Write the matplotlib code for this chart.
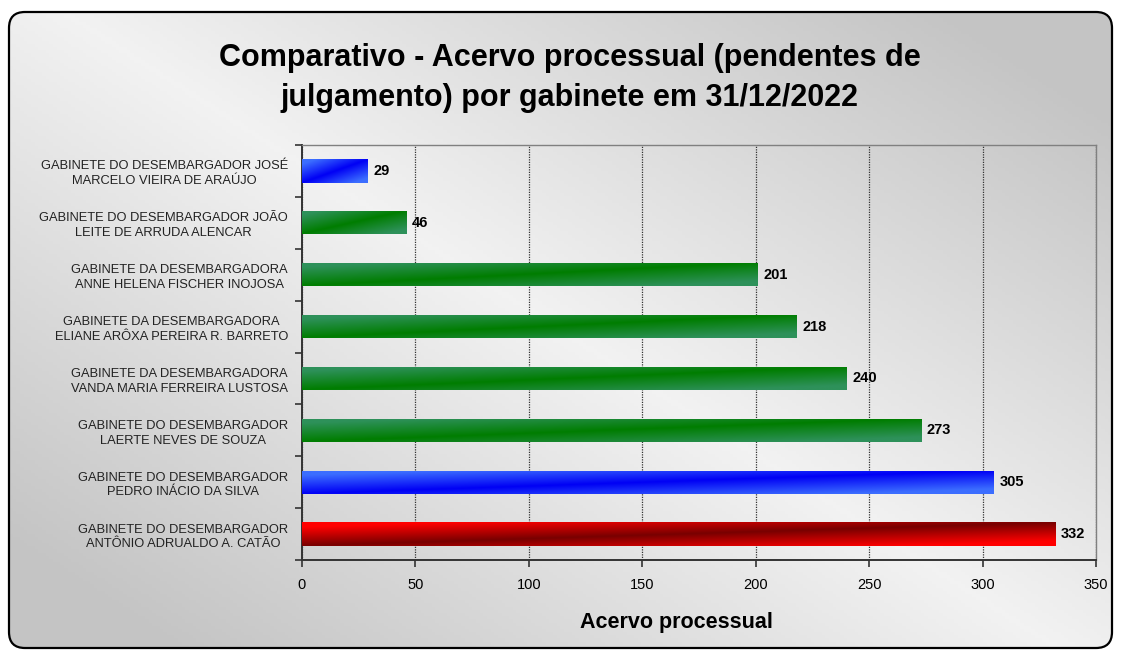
import numpy as np
import matplotlib
matplotlib.use("Agg")
import matplotlib.pyplot as plt
from matplotlib.patches import FancyBboxPatch

plt.rcParams['font.family'] = ['Liberation Sans', 'DejaVu Sans']

# data, top to bottom as in the chart
gabinetes = [
    "GABINETE DO DESEMBARGADOR JOSÉ\nMARCELO VIEIRA DE ARAÚJO",
    "GABINETE DO DESEMBARGADOR JOÃO\nLEITE DE ARRUDA ALENCAR",
    "GABINETE DA DESEMBARGADORA\nANNE HELENA FISCHER INOJOSA",
    "GABINETE DA DESEMBARGADORA\nELIANE ARÔXA PEREIRA R. BARRETO",
    "GABINETE DA DESEMBARGADORA\nVANDA MARIA FERREIRA LUSTOSA",
    "GABINETE DO DESEMBARGADOR\nLAERTE NEVES DE SOUZA",
    "GABINETE DO DESEMBARGADOR\nPEDRO INÁCIO DA SILVA",
    "GABINETE DO DESEMBARGADOR\nANTÔNIO ADRUALDO A. CATÃO",
]
acervo = [29, 46, 201, 218, 240, 273, 305, 332]
cores = ["azul", "verde", "verde", "verde", "verde", "verde", "azul", "vermelho"]

# (light, dark) pairs for the bar gradients
paleta = {
    "azul": ((60, 110, 255), (0, 0, 245)),
    "verde": ((46, 145, 90), (0, 125, 0)),
    "vermelho": ((255, 0, 0), (120, 0, 0)),
}

W, H = 1121, 650
fig = plt.figure(figsize=(W / 100, H / 100), dpi=100)
fig.patch.set_facecolor("white")

# background with rounded frame
bg = fig.add_axes([0, 0, 1, 1])
bg.set_xlim(0, W)
bg.set_ylim(H, 0)
bg.axis("off")
frame = FancyBboxPatch((9, 12), W - 18, H - 14, boxstyle="round,pad=0,rounding_size=16",
                       facecolor="none", edgecolor="black", linewidth=1.6, zorder=3)
bg.add_patch(frame)
xx, yy = np.meshgrid(np.linspace(0, 1, 300), np.linspace(0, 1, 200))
s = np.abs(xx - yy * 0.9 - 0.05)
shade = 0.95 - 0.18 * np.clip(s / 0.8, 0, 1)
img = bg.imshow(np.dstack([shade] * 3), extent=[9, W - 9, H - 2, 12], aspect="auto", zorder=1)
img.set_clip_path(frame)

fig.text(0.508, 0.88, "Comparativo - Acervo processual (pendentes de\njulgamento) por gabinete em 31/12/2022",
         ha="center", va="center", fontsize=22, fontweight="bold", linespacing=1.45)

ax = fig.add_axes([302 / W, 1 - 560 / H, (1096 - 302) / W, (560 - 145) / H])
ax.patch.set_alpha(0)

y = np.arange(len(acervo))
bars = ax.barh(y, acervo, height=0.45, color="none", zorder=3)

u, v = np.meshgrid(np.linspace(0, 1, 200), np.linspace(1, 0, 40))
t = np.clip(np.abs(v - u) / 0.8, 0, 1)[..., None]
for b, c in zip(bars, cores):
    light, dark = (np.array(k) / 255 for k in paleta[c])
    grad = dark + (light - dark) * t
    x0, y0, w, h = b.get_x(), b.get_y(), b.get_width(), b.get_height()
    im = ax.imshow(grad, extent=[x0, x0 + w, y0 + h, y0], aspect="auto", zorder=3)
    im.set_clip_path(b)

for yi, val in zip(y, acervo):
    ax.annotate(str(val), (val, yi), xytext=(4, 0), textcoords="offset points",
                va="center", ha="left", fontsize=10.5, fontweight="bold")

ax.set_xlim(0, 350)
ax.set_ylim(len(acervo) - 0.5, -0.5)
ax.set_aspect("auto")
ax.set_xticks(np.arange(0, 351, 50))
ax.set_yticks(y)
ax.set_yticklabels(gabinetes, fontsize=9.3, color="#222222", multialignment="center",
                   linespacing=1.3)
ax.set_yticks(np.arange(len(acervo) + 1) - 0.5, minor=True)
ax.tick_params(axis="y", which="major", length=0, pad=10)
ax.tick_params(axis="y", which="minor", length=5, width=1.2, color="#333333")
ax.tick_params(axis="x", length=5, width=1.2, labelsize=10.5, pad=8, color="#333333")
ax.grid(axis="x", linestyle=(0, (1, 1)), color="#333333", linewidth=0.9, zorder=1)

for side in ("top", "right"):
    ax.spines[side].set_color("#808080")
    ax.spines[side].set_linewidth(1)
for side in ("left", "bottom"):
    ax.spines[side].set_color("#333333")
    ax.spines[side].set_linewidth(1.4)

ax.set_xlabel("Acervo processual", fontsize=15.5, fontweight="bold")
ax.xaxis.set_label_coords(0.471, -0.125)

fig.savefig("out.png", dpi=100)
